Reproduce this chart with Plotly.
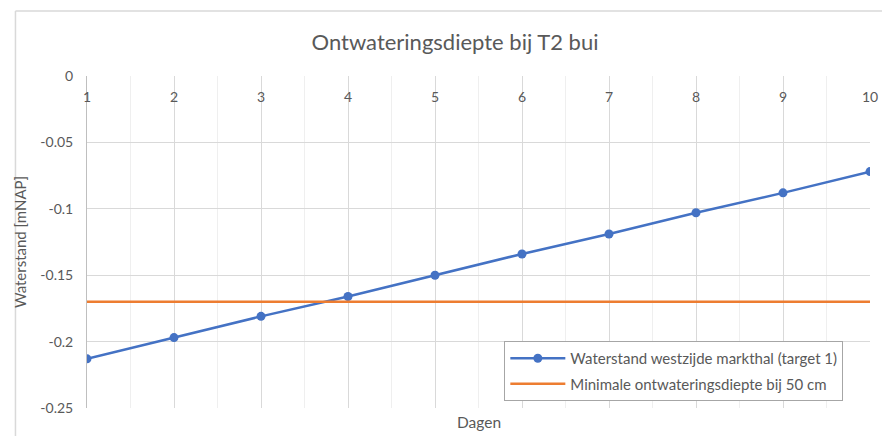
import plotly.graph_objects as go

days = [1, 2, 3, 4, 5, 6, 7, 8, 9, 10]
waterstand = [-0.213, -0.197, -0.181, -0.166, -0.150, -0.134, -0.119, -0.103, -0.088, -0.072]
min_ontwatering = [-0.17] * 10
y_tickvals = [0, -0.05, -0.1, -0.15, -0.2, -0.25]
y_ticktext = ["0", "-0.05", "-0.1", "-0.15", "-0.2", "-0.25"]
x_tickvals = days
x_ticktext = [str(d) for d in days]

FONT = "Lato"
GREY = "#595959"

fig = go.Figure()
fig.add_trace(go.Scatter(
    x=days, y=waterstand, mode="lines+markers",
    name="Waterstand westzijde markthal (target 1)", legendgroup="a",
    line=dict(color="#4472C4", width=2.5),
    marker=dict(color="#4472C4", size=9),
))
fig.add_trace(go.Scatter(
    x=days, y=min_ontwatering, mode="lines",
    name="Minimale ontwateringsdiepte bij 50 cm", legendgroup="b",
    line=dict(color="#ED7D31", width=2.5),
))

# page body has an 8px margin, so the figure is 882x428 drawn at (8, 8)
fig.update_layout(
    width=882, height=428,
    margin=dict(l=74, r=20, t=68, b=28),
    paper_bgcolor="white", plot_bgcolor="white",
    font=dict(family=FONT, color=GREY, size=14),
    title=dict(text="Ontwateringsdiepte bij T2 bui", x=447/882, xanchor="center",
               y=1 - 34/428, yanchor="middle", font=dict(size=22, color=GREY, family=FONT)),
    showlegend=True,
    legend=dict(x=(502-82)/788, y=(408-341)/332, xanchor="left", yanchor="top",
                bgcolor="white", bordercolor="#a6a6a6", borderwidth=1,
                font=dict(size=15, color=GREY, family=FONT),
                tracegroupgap=3, itemwidth=55, entrywidth=346, entrywidthmode="pixels"),
)

fig.update_xaxes(
    range=[1, 10], side="bottom", anchor="free", position=1 - 11/332,
    tickvals=x_tickvals, ticktext=x_ticktext,
    showgrid=True, gridcolor="#d9d9d9", gridwidth=1,
    minor=dict(dtick=0.5, tick0=1, showgrid=True, gridcolor="#efefef", gridwidth=1),
    showline=False, zeroline=False, ticks="", tickfont=dict(size=14, color=GREY),
)
fig.update_yaxes(
    range=[-0.25, 0], tickvals=y_tickvals, ticktext=y_ticktext,
    showgrid=True, gridcolor="#d9d9d9", gridwidth=1,
    showline=True, linecolor="#bfbfbf", linewidth=1,
    zeroline=False, ticks="outside", ticklen=10, tickcolor="rgba(0,0,0,0)",
    tickfont=dict(size=14, color=GREY),
    title=dict(text="Waterstand [mNAP]", font=dict(size=15, color=GREY), standoff=10),
)

fig.add_annotation(text="Dagen", xref="paper", yref="paper",
                   x=0.5, y=(408-422)/332, xanchor="center", yanchor="middle",
                   showarrow=False, font=dict(size=15.5, color=GREY))

# outer chart border (top and left visible)
bx = (10 - 82) / 788
by = (408 - 11) / 332
fig.add_shape(type="line", xref="paper", yref="paper", x0=bx, x1=1.2, y0=by, y1=by,
              line=dict(color="#d9d9d9", width=1.5))
fig.add_shape(type="line", xref="paper", yref="paper", x0=bx, x1=bx, y0=by, y1=-0.2,
              line=dict(color="#d9d9d9", width=1.5))

fig.write_html("out.html")
